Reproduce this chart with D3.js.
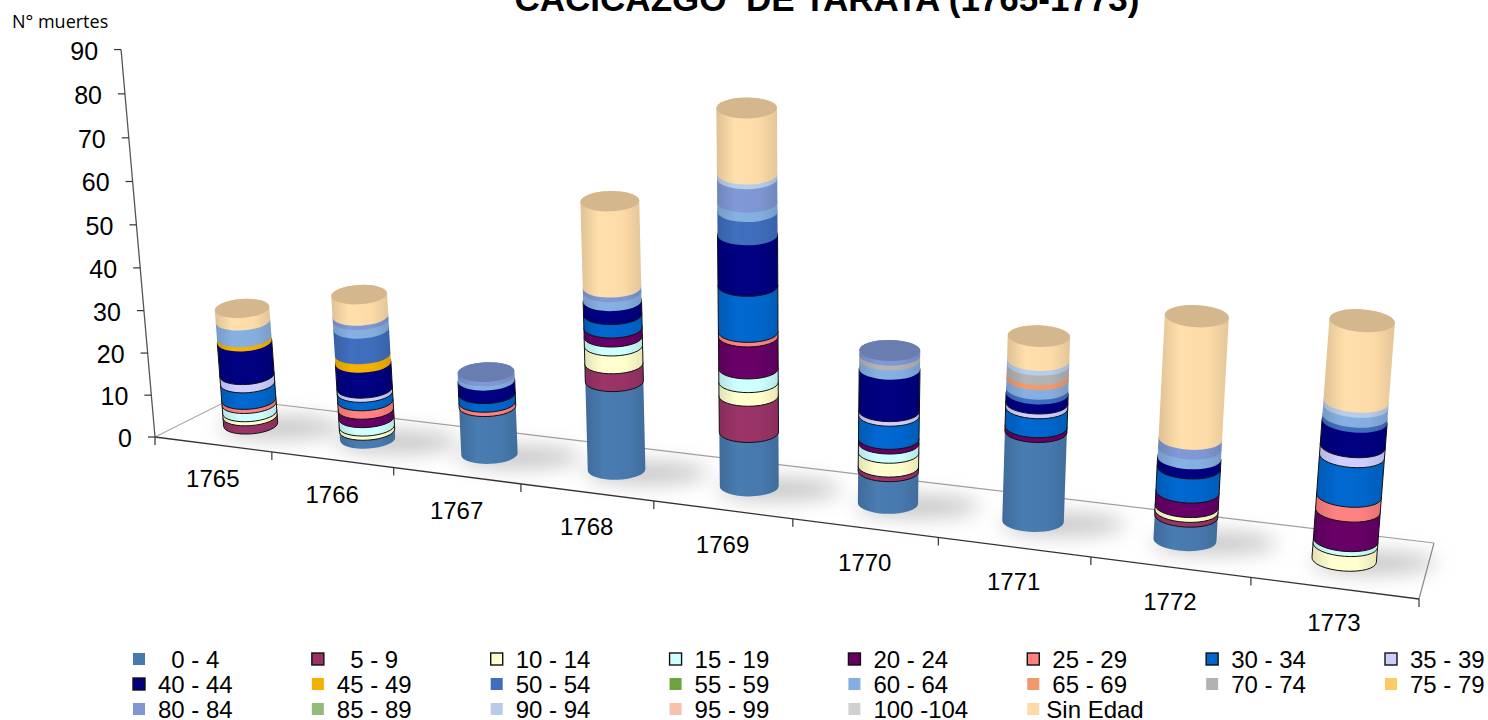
<!DOCTYPE html>
<html>
<head>
<meta charset="utf-8">
<script src="https://cdnjs.cloudflare.com/ajax/libs/d3/7.8.5/d3.min.js"></script>
<style>
  html, body { margin: 0; padding: 0; background: #fff; overflow: hidden; }
  text { font-family: "Liberation Sans", Arial, sans-serif; fill: #000; }
</style>
</head>
<body>
<svg id="chart" width="1488" height="720"></svg>
<script>
const years = ["1765", "1766", "1767", "1768", "1769", "1770", "1771", "1772", "1773"];
const ageGroups = ["\u00a0\u00a00 - 4", "\u00a0\u00a05 - 9", "10 - 14", "15 - 19", "20 - 24", "25 - 29", "30 - 34", "35 - 39",
  "40 - 44", "45 - 49", "50 - 54", "55 - 59", "60 - 64", "65 - 69", "70 - 74", "75 - 79",
  "80 - 84", "85 - 89", "90 - 94", "95 - 99", "100 -104", "Sin Edad"];
const colors = ["#4779ae", "#993366", "#ffffcc", "#ccffff", "#660066", "#ff8080", "#0066cc", "#ccccff",
  "#000080", "#f2b000", "#3f6dbb", "#6da33e", "#85aedf", "#f0996d", "#b2b2b2", "#ffc966",
  "#7e96d3", "#93bb7c", "#b5cbe8", "#f6c1b0", "#d0d0d0", "#fddba8"];
// only these groups have the black outline in the original
const outlined = [false, true, true, true, true, true, true, true, true, false, false, false, false, false, false, false, false, false, false, false, false, false];

// deaths per year
const age0 = [0, 2, 11, 20, 12, 7, 19, 5, 0];
const age5 = [2, 0, 0, 4, 8, 1, 0, 1, 0];
const age10 = [1, 1, 0, 4, 3, 3, 0, 1, 3];
const age15 = [2, 2, 0, 2, 3, 2, 0, 0, 1];
const age20 = [0, 2, 0, 2, 7, 1, 1, 3, 6];
const age25 = [1, 2, 1, 0, 1, 0, 0, 0, 3];
const age30 = [4, 2, 2, 3, 10, 5, 4, 5, 8];
const age35 = [2, 1, 0, 0, 0, 1, 1, 0, 2];
const age40 = [8, 6, 3, 3, 11, 9, 2, 2, 5];
const age45 = [1, 2, 0, 0, 0, 0, 0, 0, 0];
const age50 = [0, 6, 0, 0, 5, 0, 1, 0, 1];
const age55 = [0, 0, 0, 0, 0, 0, 0, 0, 0];
const age60 = [4, 2, 1, 2, 2, 2, 2, 2, 2];
const age65 = [0, 0, 0, 0, 0, 0, 1, 0, 0];
const age70 = [0, 0, 0, 0, 0, 1, 2, 0, 0];
const age75 = [0, 0, 0, 0, 0, 0, 0, 0, 0];
const age80 = [0, 1, 1, 1, 5, 1, 0, 2, 0];
const age85 = [0, 0, 0, 0, 0, 0, 0, 0, 0];
const age90 = [0, 0, 0, 0, 1, 0, 1, 0, 1];
const age95 = [0, 0, 0, 0, 0, 0, 0, 0, 0];
const age100 = [0, 0, 0, 0, 0, 0, 0, 0, 0];
const ageNone = [3, 5, 0, 19, 14, 0, 5, 25, 16];
const allSeries = [age0, age5, age10, age15, age20, age25, age30, age35, age40, age45, age50, age55,
  age60, age65, age70, age75, age80, age85, age90, age95, age100, ageNone];

const table = years.map((y, i) => {
  const row = { year: y };
  ageGroups.forEach((g, s) => { row[g] = allSeries[s][i]; });
  return row;
});
const stacked = d3.stack().keys(ageGroups)(table);

const svg = d3.select("#chart");
const defs = svg.append("defs");
defs.append("filter").attr("id", "soft").attr("x", "-60%").attr("y", "-120%").attr("width", "220%").attr("height", "340%")
  .append("feGaussianBlur").attr("stdDeviation", 10);
defs.append("filter").attr("id", "jpeg")
  .append("feGaussianBlur").attr("stdDeviation", 0.45);

// the floor quad of the 3D chart, corners in screen pixels
const frontLeft = [155, 437], frontRight = [1419, 599], backRight = [1434, 543], backLeft = [231, 399];
// vertical lines meet down here
const vanish = [800, 7800];
// height gets bigger going up (camera looks down a bit)
const growth = 0.000352;

const floorH = (function () {
  const [x0, y0] = frontLeft, [x1, y1] = frontRight, [x2, y2] = backRight, [x3, y3] = backLeft;
  const dx1 = x1 - x2, dx2 = x3 - x2, sx = x0 - x1 + x2 - x3;
  const dy1 = y1 - y2, dy2 = y3 - y2, sy = y0 - y1 + y2 - y3;
  const den = dx1 * dy2 - dx2 * dy1;
  const g = (sx * dy2 - dx2 * sy) / den, h = (dx1 * sy - sx * dy1) / den;
  return {
    a: x1 - x0 + g * x1, b: x3 - x0 + h * x3, c: x0,
    d: y1 - y0 + g * y1, e: y3 - y0 + h * y3, f: y0, g, h
  };
})();

function onFloor(u, v) {
  const w = floorH.g * u + floorH.h * v + 1;
  return {
    x: (floorH.a * u + floorH.b * v + floorH.c) / w,
    y: (floorH.d * u + floorH.e * v + floorH.f) / w,
    s: 1 / w
  };
}

const xBand = d3.scaleBand().domain(years).range([0, 1]);
const valueScale = d3.scaleLinear().domain([0, 90]).range([0, 376.6]);

// point above a floor position at a given count
function lifted(p, value) {
  const dx = p.x - vanish[0], dy = p.y - vanish[1];
  const len = Math.hypot(dx, dy);
  const rise = p.s * valueScale(value) / (1 - growth * value);
  return { x: p.x + dx / len * rise, y: p.y + dy / len * rise, r: 1 / (1 - growth * value) };
}

// floor
const floorPts = [frontLeft, frontRight, backRight, backLeft];
svg.append("polygon").attr("points", floorPts.join(" ")).attr("fill", "#fff");
const floorEdges = [[frontRight, backRight, "#8a8a8a"], [backRight, backLeft, "#a89c9c"], [backLeft, frontLeft, "#a8a8a8"]];
svg.selectAll("line.edge").data(floorEdges).enter().append("line").attr("class", "edge")
  .attr("x1", d => d[0][0]).attr("y1", d => d[0][1]).attr("x2", d => d[1][0]).attr("y2", d => d[1][1])
  .attr("stroke", d => d[2]).attr("stroke-width", 1.2);

// shadows on the floor
svg.append("g").selectAll("ellipse").data(table).enter().append("ellipse")
  .attr("cx", d => onFloor(xBand(d.year) + xBand.bandwidth() / 2, 0.5).x + 30)
  .attr("cy", d => onFloor(xBand(d.year) + xBand.bandwidth() / 2, 0.5).y + 3)
  .attr("rx", 62).attr("ry", 11)
  .attr("fill", "#8c8c8c").attr("opacity", 0.5).attr("filter", "url(#soft)");

// front axis line and ticks
svg.append("line").attr("x1", frontLeft[0]).attr("y1", frontLeft[1]).attr("x2", frontRight[0]).attr("y2", frontRight[1])
  .attr("stroke", "#333").attr("stroke-width", 1.3);
const tickU = d3.range(years.length + 1).map(i => i * xBand.step());
svg.selectAll("line.xtick").data(tickU).enter().append("line").attr("class", "xtick")
  .attr("x1", d => onFloor(d, 0).x).attr("y1", d => onFloor(d, 0).y)
  .attr("x2", d => onFloor(d, 0).x).attr("y2", d => onFloor(d, 0).y + 8)
  .attr("stroke", "#333").attr("stroke-width", 1.2);
svg.selectAll("text.xlabel").data(years).enter().append("text").attr("class", "xlabel")
  .attr("x", d => onFloor(xBand(d) + xBand.bandwidth() / 2, 0).x)
  .attr("y", d => onFloor(xBand(d) + xBand.bandwidth() / 2, 0).y + 43)
  .attr("text-anchor", "middle").attr("font-size", 24).text(d => d);

// value axis
const origin = { x: frontLeft[0], y: frontLeft[1], s: 1 };
svg.append("line")
  .attr("x1", origin.x).attr("y1", origin.y)
  .attr("x2", lifted(origin, 90).x).attr("y2", lifted(origin, 90).y)
  .attr("stroke", "#555").attr("stroke-width", 1.3);
const yTicks = valueScale.ticks(9);
svg.selectAll("line.ytick").data(yTicks).enter().append("line").attr("class", "ytick")
  .attr("x1", d => lifted(origin, d).x).attr("y1", d => lifted(origin, d).y)
  .attr("x2", d => lifted(origin, d).x - 7).attr("y2", d => lifted(origin, d).y)
  .attr("stroke", "#333").attr("stroke-width", 1.2);
svg.selectAll("text.ylabel").data(yTicks).enter().append("text").attr("class", "ylabel")
  .attr("x", d => lifted(origin, d).x - 23).attr("y", d => lifted(origin, d).y + 10)
  .attr("text-anchor", "end").attr("font-size", 25).text(d => d);

// gradients, one per age group, sides a bit darker than the middle
colors.forEach((c, i) => {
  const g = defs.append("linearGradient").attr("id", "grad" + i);
  g.append("stop").attr("offset", "0%").attr("stop-color", d3.color(c).darker(0.35));
  g.append("stop").attr("offset", "30%").attr("stop-color", d3.color(c).brighter(0.05));
  g.append("stop").attr("offset", "70%").attr("stop-color", c);
  g.append("stop").attr("offset", "100%").attr("stop-color", d3.color(c).darker(0.3));
});

const columnRadius = 27.5, columnDepth = 9.5;

function cylinderParts(year, low, high) {
  const base = onFloor(xBand(year) + xBand.bandwidth() / 2, 0.5);
  const bot = lifted(base, low), top = lifted(base, high);
  // direction of the column, the ellipses sit square to it
  const len = Math.hypot(top.x - bot.x, top.y - bot.y) || 1;
  const nx = (top.x - bot.x) / len, ny = (top.y - bot.y) / len;
  const ex = -ny, ey = nx;
  const rot = Math.atan2(ey, ex) * 180 / Math.PI;
  const rb = columnRadius * base.s * bot.r, rt = columnRadius * base.s * top.r;
  const db = columnDepth * base.s * bot.r, dt = columnDepth * base.s * top.r;
  return { bot, top, ex, ey, rot, rb, rt, db, dt };
}

function sidePath(p) {
  return `M${p.bot.x - p.ex * p.rb},${p.bot.y - p.ey * p.rb}` +
    `A${p.rb},${p.db} ${p.rot} 0 0 ${p.bot.x + p.ex * p.rb},${p.bot.y + p.ey * p.rb}` +
    `L${p.top.x + p.ex * p.rt},${p.top.y + p.ey * p.rt}` +
    `A${p.rt},${p.dt} ${p.rot} 0 0 ${p.top.x - p.ex * p.rt},${p.top.y - p.ey * p.rt}Z`;
}

const columns = svg.append("g").attr("filter", "url(#jpeg)");
years.forEach((year, i) => {
  const col = columns.append("g").attr("class", "col");
  const parts = stacked.map((layer, s) => ({ s, low: layer[i][0], high: layer[i][1] })).filter(d => d.high > d.low);
  col.selectAll("path").data(parts).enter().append("path")
    .attr("d", d => sidePath(cylinderParts(year, d.low, d.high)))
    .attr("fill", d => `url(#grad${d.s})`)
    .attr("stroke", d => outlined[d.s] ? "#111" : "none")
    .attr("stroke-width", 1);
  // top cap of the last segment
  const last = parts[parts.length - 1];
  const p = cylinderParts(year, last.low, last.high);
  col.append("ellipse")
    .attr("transform", `translate(${p.top.x},${p.top.y}) rotate(${p.rot})`)
    .attr("rx", p.rt).attr("ry", p.dt)
    .attr("fill", d3.color(colors[last.s]).darker(0.5));
});

// legend, 8 columns and 3 rows
const legendX = d3.scalePoint().domain(d3.range(8)).range([139, 1391]);
const legendY = d3.scalePoint().domain(d3.range(3)).range([659, 709]);
const legend = svg.append("g").selectAll("g").data(ageGroups).enter().append("g")
  .attr("transform", (d, i) => `translate(${legendX(i % 8)},${legendY(Math.floor(i / 8))})`);
legend.append("rect").attr("x", -6).attr("y", -6).attr("width", 12).attr("height", 12)
  .attr("fill", (d, i) => colors[i])
  .attr("stroke", (d, i) => outlined[i] ? "#111" : "none").attr("stroke-width", 1.4);
legend.append("text")
  .attr("x", d => d === "Sin Edad" ? 13 : 19).attr("y", 9)
  .attr("font-size", 24)
  .style("white-space", "pre")
  .text(d => d);

// titles
svg.append("text").attr("x", 827).attr("y", 11).attr("text-anchor", "middle")
  .attr("font-size", 35).attr("font-weight", "bold").style("white-space", "pre")
  .text("CACICAZGO  DE TARATA (1765-1773)");
svg.append("text").attr("x", 12).attr("y", 28).attr("font-size", 18)
  .style("font-family", "'Open Sans', sans-serif").text("N° muertes");
</script>
</body>
</html>
